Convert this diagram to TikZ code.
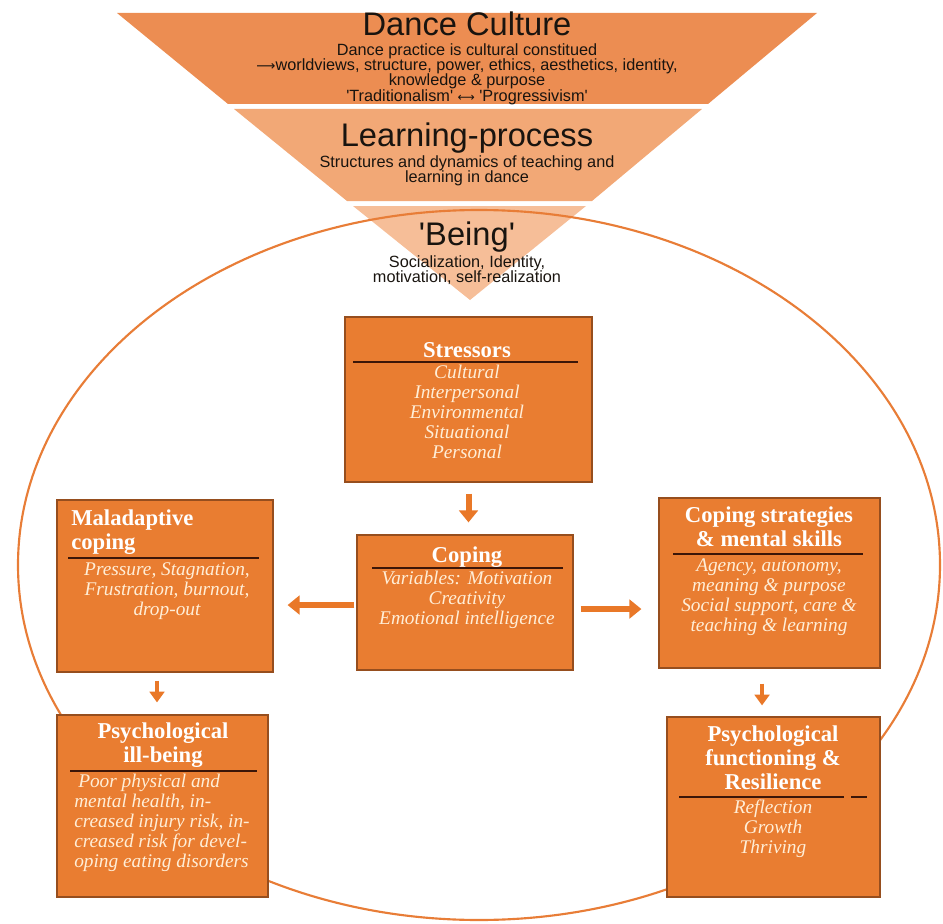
\documentclass[tikz,border=0pt]{standalone}
\usepackage{fontspec}
\setmainfont{Liberation Serif}
\newfontfamily\sansf{Liberation Sans}
\newfontfamily\symf{DejaVu Sans}
\usetikzlibrary{arrows.meta}
\definecolor{band1}{RGB}{236,141,82}
\definecolor{band2}{RGB}{242,168,118}
\definecolor{band3}{RGB}{246,190,152}
\definecolor{boxfill}{RGB}{233,125,49}
\definecolor{boxline}{RGB}{150,78,30}
\definecolor{ruleline}{RGB}{60,22,8}
\definecolor{ovalline}{RGB}{232,125,55}
\definecolor{arrowc}{RGB}{233,120,40}
\definecolor{cream}{RGB}{255,238,215}
\definecolor{darktext}{RGB}{25,20,15}
\tikzset{
  box/.style={draw=boxline, line width=0.9pt, fill=boxfill, inner sep=0pt},
  ttl/.style={font=\fontsize{17pt}{18pt}\selectfont\bfseries, text=white, inner sep=0pt, align=center},
  bdy/.style={font=\fontsize{14.5pt}{15pt}\selectfont\itshape, text=cream, inner sep=0pt, align=center},
  rul/.style={draw=ruleline, line width=1.3pt},
  arr/.style={draw=arrowc, line width=4.5pt, -{Triangle[width=14pt,length=9pt]}},
  arrsm/.style={draw=arrowc, line width=3.5pt, -{Triangle[width=11pt,length=8pt]}},
  bigt/.style={font=\sansf\fontsize{24.5pt}{26pt}\selectfont, text=darktext, inner sep=0pt},
  smallt/.style={font=\sansf\fontsize{12.2pt}{11.6pt}\selectfont, text=darktext, inner sep=0pt, align=center},
}
\begin{document}
\begin{tikzpicture}[x=0.75pt,y=-0.75pt]
\useasboundingbox (0,0) rectangle (943,924);
% funnel
\fill[band1] (117,13) -- (817,13) -- (708,104) -- (228,104) -- cycle;
\fill[band2] (234,109) -- (702,109) -- (592,201) -- (347,201) -- cycle;
\fill[band3] (353,206) -- (586,206) -- (470,300) -- cycle;
% oval
\draw[ovalline, line width=1.6pt] (479,565) ellipse [x radius=461, y radius=355];
% funnel texts
\node[bigt] (dc) at (467,24) {Dance Culture};
\node[smallt] (dcs) at (467,74) {Dance practice is cultural constitued\\
{\symf\fontsize{10pt}{10pt}\selectfont ⟶}worldviews, structure, power, ethics, aesthetics, identity,\\
knowledge \& purpose\\
\textquotesingle Traditionalism\textquotesingle\ {\symf\fontsize{9pt}{9pt}\selectfont ⟷} \textquotesingle Progressivism\textquotesingle};
\node[bigt] (lp) at (467,138) {Learning-process};
\node[smallt] (lps) at (467,171) {Structures and dynamics of teaching and\\learning in dance};
\node[bigt] (be) at (467,237) {\textquotesingle Being\textquotesingle};
\node[smallt] (bes) at (467,270) {Socialization, Identity,\\motivation, self-realization};
% boxes
\node[box, minimum width=185.25pt, minimum height=123.75pt] (stress) at (468.5,399.5) {};
\node[box, minimum width=162pt, minimum height=101.25pt] (coping) at (465,602.5) {};
\node[box, minimum width=162pt, minimum height=129pt] (mal) at (165,586) {};
\node[box, minimum width=165.75pt, minimum height=127.5pt] (strat) at (769.5,583) {};
\node[box, minimum width=158.25pt, minimum height=136.5pt] (ill) at (162.5,806) {};
\node[box, minimum width=159.75pt, minimum height=135pt] (func) at (773.5,807) {};
% Stressors
\node[ttl] (stt) at (467,350) {Stressors};
\draw[rul] (353,362) -- (578,362);
\node[bdy, anchor=north] (stb) at (467,365) {Cultural\\Interpersonal\\Environmental\\Situational\\Personal};
% Coping
\node[ttl] (cot) at (467,557) {Coping};
\draw[rul] (372,568) -- (563,568);
\node[bdy, anchor=north] (cob) at (467,571) {Variables: Motivation\\Creativity\\Emotional intelligence};
% Maladaptive
\node[ttl, anchor=north west, align=left] (mat) at (71,510) {Maladaptive\\coping};
\draw[rul] (68,558) -- (259,558);
\node[bdy, anchor=north] (mab) at (167,562) {Pressure, Stagnation,\\Frustration, burnout,\\drop-out};
% Strategies
\node[ttl, anchor=north] (srt) at (769,507) {Coping strategies\\\& mental skills};
\draw[rul] (673,554) -- (863,554);
\node[bdy, anchor=north] (srb) at (769,558) {Agency, autonomy,\\meaning \& purpose\\Social support, care \&\\teaching \& learning};
% Ill-being
\node[ttl, anchor=north] (ilt) at (163,722) {Psychological\\ill-being};
\draw[rul] (70,771) -- (257,771);
\node[bdy, anchor=north west, align=left] (ilb) at (74,774) {\hspace{3pt}Poor physical and\\mental health, in-\\creased injury risk, in-\\creased risk for devel-\\oping eating disorders};
% Functioning
\node[ttl, anchor=north] (fut) at (773,726) {Psychological\\functioning \&\\Resilience};
\draw[rul] (679,797) -- (844,797);
\draw[rul] (851,797) -- (867,797);
\node[bdy, anchor=north] (fub) at (773,800) {Reflection\\Growth\\Thriving};
% arrows
\draw[arr, shorten <=8.25pt, shorten >=9pt] (stress.south) -- (stress.south |- coping.north);
\draw[arr, shorten <=1.5pt, shorten >=10.5pt] ([yshift=-1.9pt]coping.west) -- ([yshift=-1.9pt]coping.west -| mal.east);
\draw[arr, shorten <=5.25pt, shorten >=12.75pt] ([yshift=-4.9pt]coping.east) -- ([yshift=-4.9pt]coping.east -| strat.west);
\draw[arrsm, shorten <=6pt, shorten >=9pt] ([xshift=-6pt]mal.south) -- ([xshift=-6pt]mal.south |- ill.north);
\draw[arrsm, shorten <=11.25pt, shorten >=8.25pt] ([xshift=-5.6pt]strat.south) -- ([xshift=-5.6pt]strat.south |- func.north);
\end{tikzpicture}
\end{document}
